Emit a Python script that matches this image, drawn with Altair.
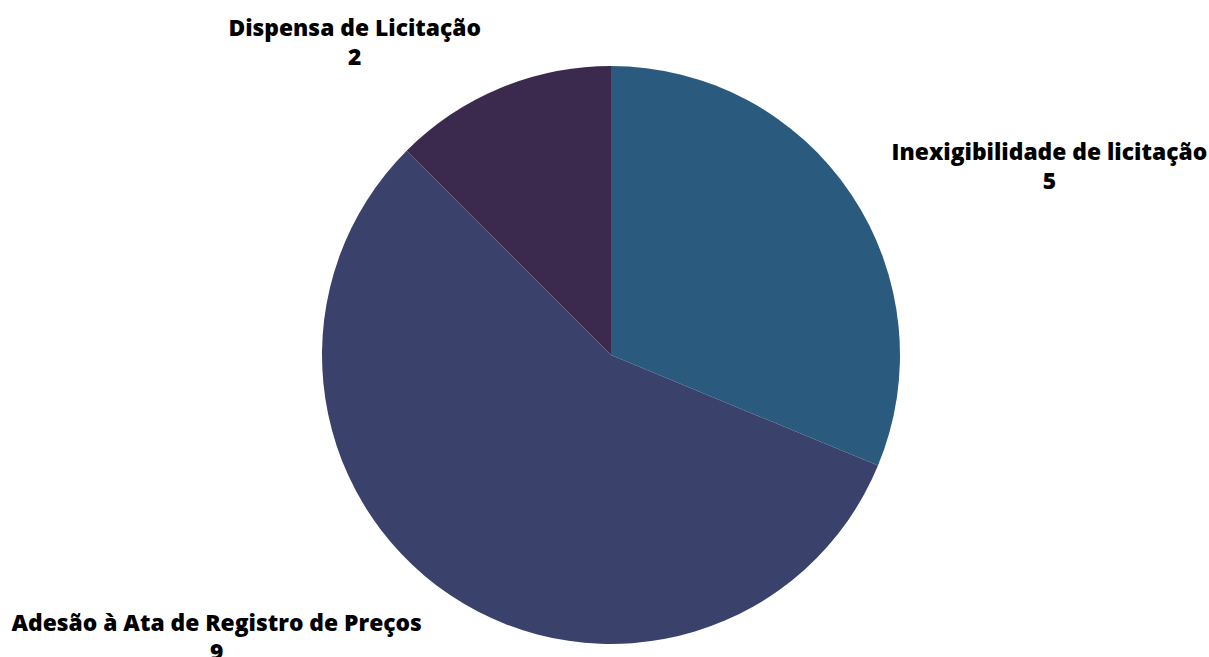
import altair as alt
import pandas as pd

categories = ["Inexigibilidade de licitação", "Adesão à Ata de Registro de Preços", "Dispensa de Licitação"]
values = [5, 9, 2]
order = [1, 2, 3]
colors = ["#2b5a7f", "#3a426b", "#3c2a4e"]

df = pd.DataFrame({"cat": categories, "val": values, "ord": order})

base = alt.Chart(df).transform_calculate(
    label="datum.cat + '\\n' + datum.val"
)

arc = base.mark_arc(outerRadius=289).encode(
    theta=alt.Theta("val:Q", stack=True),
    order=alt.Order("ord:Q"),
    color=alt.Color("cat:N", scale=alt.Scale(domain=categories, range=colors), legend=None),
)

offsets = {
    "Inexigibilidade de licitação": (164, -19),
    "Adesão à Ata de Registro de Preços": (-211, -5),
    "Dispensa de Licitação": (-130, -21),
}

layers = [arc]
for c in categories:
    dx, dy = offsets[c]
    t = base.mark_text(
        radius=330, dx=dx, dy=dy, font="Open Sans", fontSize=22.8, fontWeight=800,
        lineBreak="\n", lineHeight=29, align="center", baseline="middle", color="#000000"
    ).encode(
        theta=alt.Theta("val:Q", stack=True),
        order=alt.Order("ord:Q"),
        text="label:N",
        opacity=alt.condition(alt.datum.cat == c, alt.value(1), alt.value(0)),
    )
    layers.append(t)

chart = alt.layer(*layers).properties(
    width=1196, height=604,
    autosize=alt.AutoSizeParams(type="none"),
    padding={"left": 13, "top": 53, "right": 0, "bottom": 0},
).configure_view(stroke=None).configure(background="#ffffff")

chart.save("out.html", embed_options={"renderer": "svg", "actions": False})
